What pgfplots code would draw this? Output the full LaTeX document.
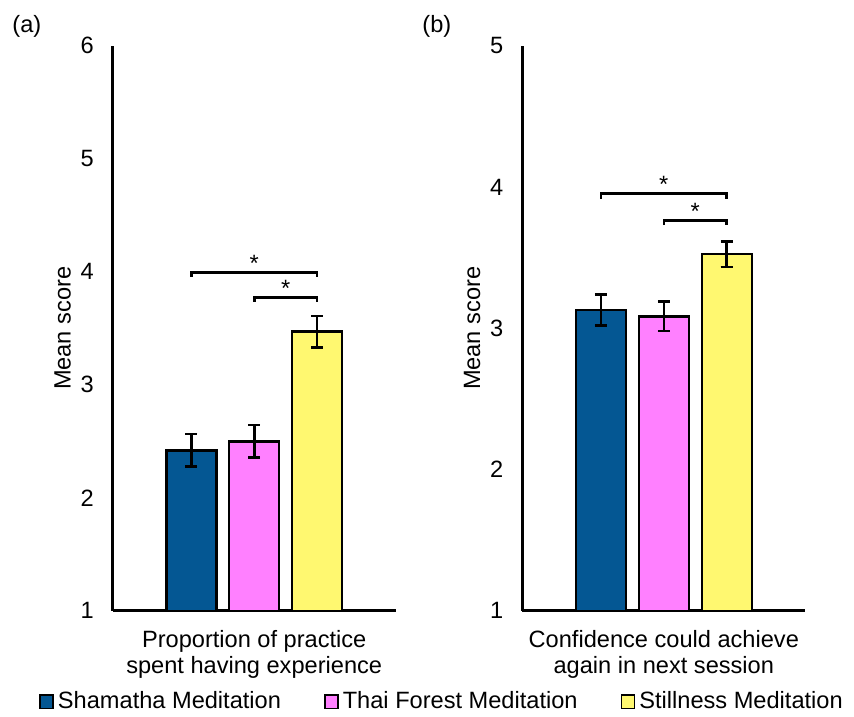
\documentclass[border=0pt]{standalone}
\usepackage{fontspec}
\setmainfont{Liberation Sans}
\usepackage{pgfplots}
\pgfplotsset{compat=1.18}
\definecolor{cblue}{RGB}{4,87,147}
\definecolor{cpink}{RGB}{255,128,255}
\definecolor{cyell}{RGB}{255,248,112}
\newcommand\f{\fontsize{11.8pt}{13pt}\selectfont}
\pgfplotsset{
 eb/.style={
  error bars/.cd, y dir=both, y explicit,
  draw error bar/.code 2 args={%
    \draw[line width=1.3pt, black] ##1 -- ##2;
    \draw[line width=1.3pt, black] ##2 ++(-3pt,0pt) -- ++(6pt,0pt);},
 },
 mybars/.style={
  width=141.5pt, height=282.5pt, scale only axis,
  axis lines=left, axis line style={-, line width=1.5pt},
  xmin=-1.25, xmax=3.25, ymin=1,
  xtick=\empty, major tick length=0pt,
  ybar, bar width=25pt, bar shift=0pt,
  /pgf/number format/assume math mode=true,
  tick label style={font=\f},
  yticklabel style={xshift=-6pt},
  label style={font=\f},
  ylabel={Mean score},
  ylabel style={at={(axis description cs:-0.177,0.5)}, anchor=center},
  xlabel style={at={(axis description cs:0.5,-0.0765)}, anchor=center, align=center},
  every axis plot/.append style={draw=black, line width=1.2pt},
  legend image code/.code={\draw[#1, line width=0.8pt, draw=black] (0pt,-3.3pt) rectangle (6.6pt,3.3pt);},
 }
}
\begin{document}
\begin{tikzpicture}
\useasboundingbox (0,0) rectangle (427pt,-358pt);
\node[font=\f, anchor=west, inner sep=0pt] at (6pt,-13pt) {(a)};
\node[font=\f, anchor=west, inner sep=0pt] at (211pt,-13pt) {(b)};
\begin{axis}[mybars, at={(56.35pt,-305.4pt)}, anchor=south west,
  ymax=6, ytick={1,2,3,4,5,6},
  xlabel={Proportion of practice\\spent having experience},
  legend columns=3,
  legend style={at={(axis description cs:1.167,-0.161)}, anchor=center, draw=none, fill=none, font=\f,
    /tikz/every even column/.append style={column sep=19.5pt}},
]
\addplot[fill=cblue, eb] coordinates {(0,2.42) +- (0,0.145)};
\addlegendentry{Shamatha Meditation}
\addplot[fill=cpink, eb] coordinates {(1,2.50) +- (0,0.145)};
\addlegendentry{Thai Forest Meditation}
\addplot[fill=cyell, eb] coordinates {(2,3.47) +- (0,0.14)};
\addlegendentry{Stillness Meditation}
\draw[line width=1.3pt] (axis cs:0,3.955) -- (axis cs:0,3.992) -- (axis cs:2,3.992) -- (axis cs:2,3.955);
\draw[line width=1.3pt] (axis cs:1,3.737) -- (axis cs:1,3.774) -- (axis cs:2,3.774) -- (axis cs:2,3.737);
\node[font=\f, anchor=base, inner sep=0pt] at (axis cs:1,4.0) {*};
\node[font=\f, anchor=base, inner sep=0pt] at (axis cs:1.5,3.785) {*};
\end{axis}
\begin{axis}[mybars, at={(261.15pt,-305.4pt)}, anchor=south west,
  ymax=5, ytick={1,2,3,4,5},
  xlabel={Confidence could achieve\\again in next session},
]
\addplot[fill=cblue, eb] coordinates {(0,3.13) +- (0,0.11)};
\addplot[fill=cpink, eb] coordinates {(1,3.085) +- (0,0.105)};
\addplot[fill=cyell, eb] coordinates {(2,3.525) +- (0,0.09)};
\draw[line width=1.3pt] (axis cs:0,3.918) -- (axis cs:0,3.954) -- (axis cs:2,3.954) -- (axis cs:2,3.918);
\draw[line width=1.3pt] (axis cs:1,3.73) -- (axis cs:1,3.764) -- (axis cs:2,3.764) -- (axis cs:2,3.73);
\node[font=\f, anchor=base, inner sep=0pt] at (axis cs:1,3.962) {*};
\node[font=\f, anchor=base, inner sep=0pt] at (axis cs:1.5,3.772) {*};
\end{axis}
\end{tikzpicture}
\end{document}
